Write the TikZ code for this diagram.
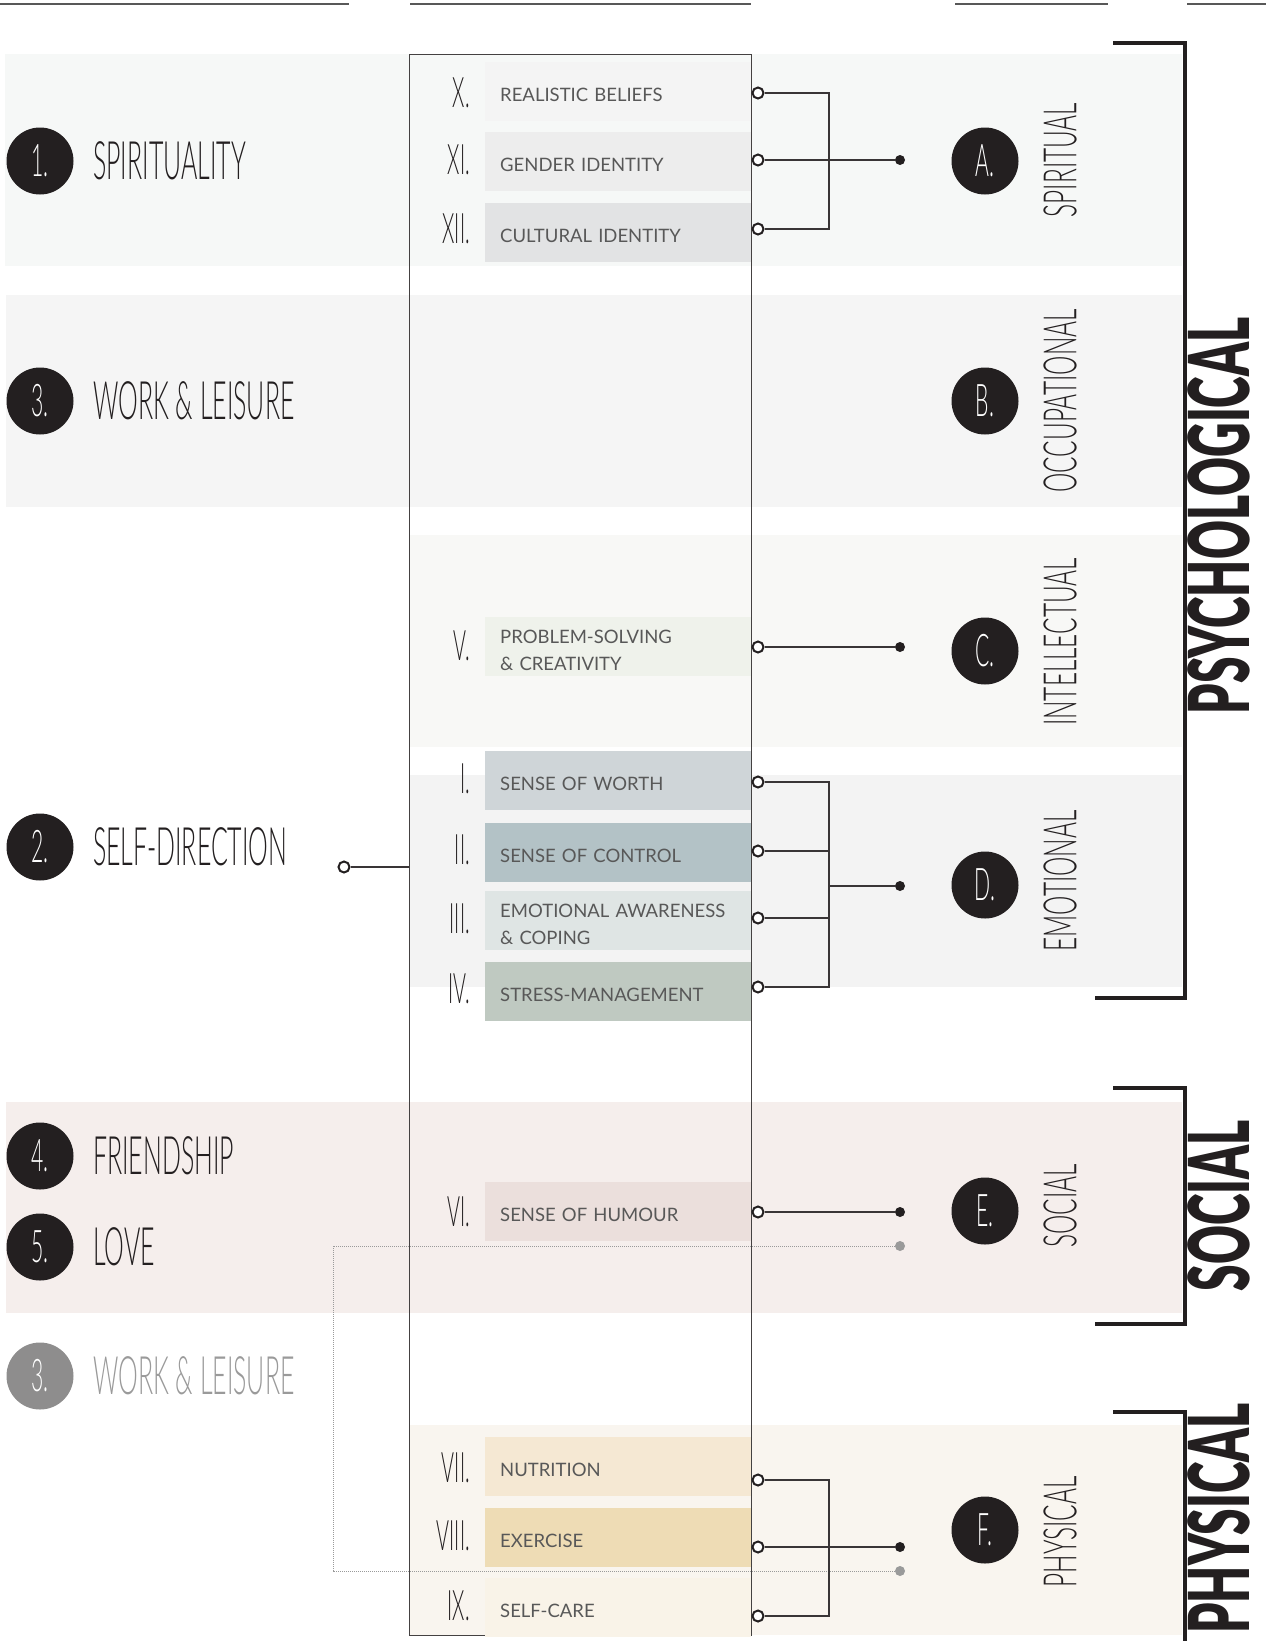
\documentclass[tikz,border=0pt]{standalone}
\usepackage{fontspec}
\setmainfont{Lato}
\newfontfamily\handfont[FakeStretch=0.47]{Lato Light}
\newfontfamily\tallfont[FakeStretch=0.53]{Lato Light}
\newfontfamily\brushfont[FakeStretch=0.57]{Lato Black}
\definecolor{ink}{HTML}{231F20}
\definecolor{txt}{HTML}{585858}
\definecolor{mute}{HTML}{9A9A9A}
\definecolor{fade}{HTML}{8E8D8D}
\definecolor{bandA}{HTML}{F6F8F7}
\definecolor{bandB}{HTML}{F5F5F5}
\definecolor{bandC}{HTML}{F8F8F6}
\definecolor{bandD}{HTML}{F3F3F3}
\definecolor{bandE}{HTML}{F5EEEC}
\definecolor{bandF}{HTML}{F9F5EF}
\definecolor{itX}{HTML}{F4F4F4}
\definecolor{itXI}{HTML}{EDEDED}
\definecolor{itXII}{HTML}{E2E3E4}
\definecolor{itV}{HTML}{EFF2EB}
\definecolor{itI}{HTML}{CFD5D8}
\definecolor{itII}{HTML}{B3C2C6}
\definecolor{itIII}{HTML}{DFE5E4}
\definecolor{itIV}{HTML}{BFC9C1}
\definecolor{itVI}{HTML}{EBDFDC}
\definecolor{itVII}{HTML}{F5E8D3}
\definecolor{itVIII}{HTML}{EEDCB5}
\definecolor{itIX}{HTML}{F9F3E8}
\tikzset{
  band/.style={fill=#1},
  rule/.style={draw=txt, line width=1.5pt},
  column/.style={
    rectangle,
    draw=ink!85,
    line width=0.9pt,
    minimum width=341.5pt,
    minimum height=1581pt,
    inner sep=0pt
  },
  item/.style={
    rectangle,
    fill=#1,
    anchor=west,
    minimum width=266pt,
    minimum height=59pt,
    text width=236pt,
    text height=21pt,
    inner xsep=15pt,
    inner ysep=0pt,
    align=left,
    text=txt,
    font=\fontsize{18.5}{27}\selectfont
  },
  numeral/.style={anchor=east, inner sep=0pt, text=ink, font=\handfont\fontsize{42}{42}\selectfont},
  badge/.style={circle, fill=#1, minimum size=67pt, inner sep=0pt, text=white, font=\handfont\fontsize{45}{45}\selectfont},
  area/.style={anchor=west, inner sep=0pt, text=#1, font=\handfont\fontsize{53}{53}\selectfont},
  dimension/.style={rotate=90, inner sep=0pt, text=ink, font=\tallfont\fontsize{46}{46}\selectfont},
  group/.style={rotate=90, inner sep=0pt, text=ink, font=\brushfont\fontsize{84}{84}\selectfont},
  port/.style={circle, draw=ink, line width=2pt, fill=white, minimum size=11pt, inner sep=0pt},
  tip/.style={circle, fill=#1, minimum size=10pt, inner sep=0pt},
  wire/.style={draw=ink!90, line width=1.4pt},
  trace/.style={draw=mute, line width=0.9pt, dash pattern=on 1pt off 1pt},
  bracket/.style={draw=ink, line width=4.5pt, line join=miter}
}

\begin{document}
\begin{tikzpicture}[x=1pt, y=-1pt]
    \useasboundingbox (0, 0) rectangle (1266, 1641);
    \fill[band=bandA] (5, 54) rectangle (1182, 266);
    \fill[band=bandB] (6, 295) rectangle (1182, 507);
    \fill[band=bandC] (410, 535) rectangle (1182, 747);
    \fill[band=bandD] (409, 775) rectangle (1182, 987);
    \fill[band=bandE] (6, 1102) rectangle (1182, 1313);
    \fill[band=bandF] (409, 1425) rectangle (1182, 1635);
    \draw[rule] (0, 4) -- (349, 4) (410, 4) -- (751, 4) (955, 4) -- (1108, 4) (1187, 4) -- (1266, 4);
    \node[column] (col) at (580.25, 844.5) {};

    \node[tip=mute] (gE) at (900, 1246) {};
    \node[tip=mute] (gF) at (900, 1571) {};
    \coordinate (jG) at (333, 1400);
    \draw[trace] (gE) -- (gE -| jG) -- (gF -| jG) -- (gF);

    \node[item=itX] (iX) at (485, 91) {REALISTIC BELIEFS};
    \node[item=itXI] (iXI) at (485, 161.5) {GENDER IDENTITY};
    \node[item=itXII] (iXII) at (485, 232.5) {CULTURAL IDENTITY};
    \node[item=itV] (iV) at (485, 646.5) {PROBLEM-SOLVING\\\& CREATIVITY};
    \node[item=itI] (iI) at (485, 780.5) {SENSE OF WORTH};
    \node[item=itII] (iII) at (485, 852.5) {SENSE OF CONTROL};
    \node[item=itIII] (iIII) at (485, 920.5) {EMOTIONAL AWARENESS\\\& COPING};
    \node[item=itIV] (iIV) at (485, 991.5) {STRESS-MANAGEMENT};
    \node[item=itVI] (iVI) at (485, 1211.5) {SENSE OF HUMOUR};
    \node[item=itVII] (iVII) at (485, 1466.5) {NUTRITION};
    \node[item=itVIII] (iVIII) at (485, 1537.5) {EXERCISE};
    \node[item=itIX] (iIX) at (485, 1607.5) {SELF-CARE};

    \node[numeral] (nX) at (470, 93) {X.};
    \node[numeral] (nXI) at (470, 160) {XI.};
    \node[numeral] (nXII) at (470, 229) {XII.};
    \node[numeral] (nV) at (470, 646) {V.};
    \node[numeral] (nI) at (470, 779) {I.};
    \node[numeral] (nII) at (470, 850) {II.};
    \node[numeral] (nIII) at (470, 919) {III.};
    \node[numeral] (nIV) at (470, 989) {IV.};
    \node[numeral] (nVI) at (470, 1212) {VI.};
    \node[numeral] (nVII) at (470, 1468) {VII.};
    \node[numeral] (nVIII) at (470, 1536) {VIII.};
    \node[numeral] (nIX) at (470, 1606) {IX.};

    \node[port] (pX) at (758, 93) {};
    \node[port] (pXI) at (758, 160) {};
    \node[port] (pXII) at (758, 229) {};
    \node[port] (pV) at (758, 647) {};
    \node[port] (pI) at (758, 782) {};
    \node[port] (pII) at (758, 851) {};
    \node[port] (pIII) at (758, 918) {};
    \node[port] (pIV) at (758, 987) {};
    \node[port] (pVI) at (758, 1212) {};
    \node[port] (pVII) at (758, 1480) {};
    \node[port] (pVIII) at (758, 1547) {};
    \node[port] (pIX) at (758, 1616) {};
    \node[port] (pS) at (344, 867) {};

    \node[tip=ink] (dA) at (900, 160) {};
    \node[tip=ink] (dC) at (900, 647) {};
    \node[tip=ink] (dD) at (900, 886) {};
    \node[tip=ink] (dE) at (900, 1212) {};
    \node[tip=ink] (dF) at (900, 1547) {};
    \coordinate (jA) at (829, 160);
    \coordinate (jD) at (829, 886);
    \coordinate (jF) at (829, 1547);

    \draw[wire] (pX) -| (jA) |- (pXII);
    \draw[wire] (pXI) -- (dA);
    \draw[wire] (pV) -- (dC);
    \draw[wire] (pI) -| (jD) |- (pIV);
    \draw[wire] (pII) -- (pII -| jD);
    \draw[wire] (pIII) -- (pIII -| jD);
    \draw[wire] (jD) -- (dD);
    \draw[wire] (pVI) -- (dE);
    \draw[wire] (pVII) -| (jF) |- (pIX);
    \draw[wire] (pVIII) -- (dF);
    \draw[wire] (pS) -- (pS -| col.west);

    \node[badge=ink] (A) at (985, 161) {A.};
    \node[badge=ink] (B) at (985, 401) {B.};
    \node[badge=ink] (C) at (985, 651) {C.};
    \node[badge=ink] (D) at (985, 885) {D.};
    \node[badge=ink] (E) at (985, 1211) {E.};
    \node[badge=ink] (F) at (985, 1530) {F.};
    \node[dimension] (lA) at (1060, 160) {SPIRITUAL};
    \node[dimension] (lB) at (1060, 401) {OCCUPATIONAL};
    \node[dimension] (lC) at (1060, 642) {INTELLECTUAL};
    \node[dimension] (lD) at (1060, 881) {EMOTIONAL};
    \node[dimension] (lE) at (1060, 1206) {SOCIAL};
    \node[dimension] (lF) at (1060, 1532) {PHYSICAL};

    \node[badge=ink] (s1) at (40, 161) {1.};
    \node[badge=ink] (s3) at (40, 401) {3.};
    \node[badge=ink] (s2) at (40, 847) {2.};
    \node[badge=ink] (s4) at (40, 1156) {4.};
    \node[badge=ink] (s5) at (40, 1247) {5.};
    \node[badge=fade] (s3b) at (40, 1376) {3.};
    \node[area=ink] (a1) at (93, 161) {SPIRITUALITY};
    \node[area=ink] (a3) at (93, 401) {WORK \& LEISURE};
    \node[area=ink] (a2) at (93, 847) {SELF-DIRECTION};
    \node[area=ink] (a4) at (93, 1156) {FRIENDSHIP};
    \node[area=ink] (a5) at (93, 1247) {LOVE};
    \node[area=mute] (a3b) at (93, 1376) {WORK \& LEISURE};

    \draw[bracket] (1113, 43) -- (1185, 43) -- (1185, 998) -- (1095, 998);
    \draw[bracket] (1113, 1088) -- (1185, 1088) -- (1185, 1324) -- (1095, 1324);
    \draw[bracket] (1113, 1412) -- (1185, 1412) -- (1185, 1660);
    \node[group] (gPsy) at (1219, 516) {PSYCHOLOGICAL};
    \node[group] (gSoc) at (1219, 1206) {SOCIAL};
    \node[group, anchor=east] (gPhy) at (1219, 1403) {PHYSICAL};
\end{tikzpicture}
\end{document}
